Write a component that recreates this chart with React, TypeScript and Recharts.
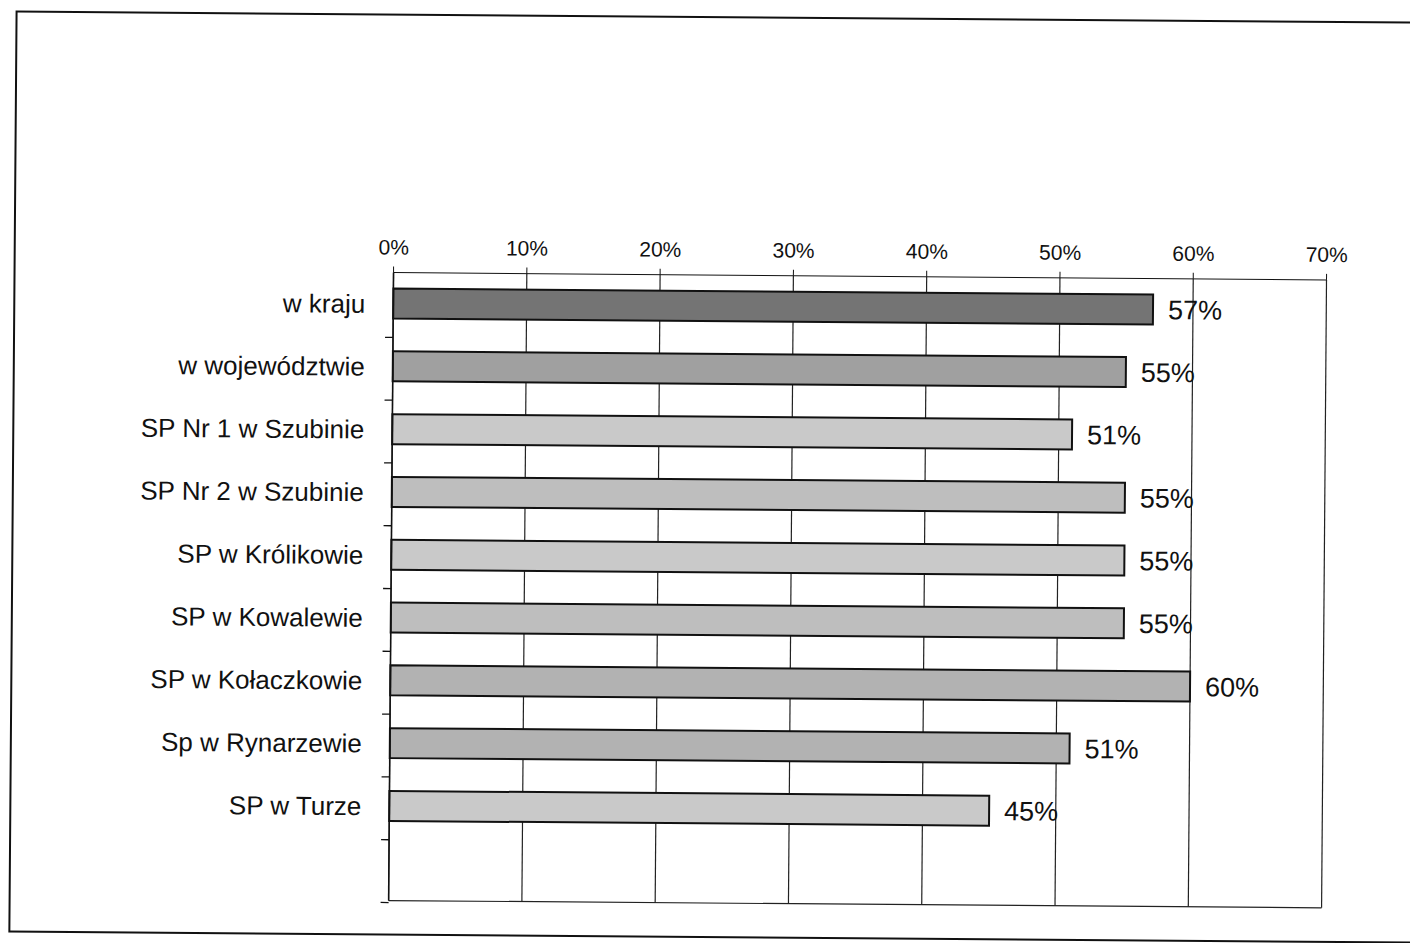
import { BarChart, Bar, XAxis, YAxis, CartesianGrid, Cell, LabelList } from "recharts";

// categories (last slot is left empty, like the original)
const schools = [
  "w kraju",
  "w województwie",
  "SP Nr 1 w Szubinie",
  "SP Nr 2 w Szubinie",
  "SP w Królikowie",
  "SP w Kowalewie",
  "SP w Kołaczkowie",
  "Sp w Rynarzewie",
  "SP w Turze",
  "",
];
const scores = [0.57, 0.55, 0.51, 0.55, 0.55, 0.55, 0.6, 0.51, 0.45, null];
const xTicks = [0, 0.1, 0.2, 0.3, 0.4, 0.5, 0.6, 0.7];

const barFills = ["#747474", "#a0a0a0", "#c9c9c9", "#bebebe", "#c9c9c9", "#bebebe", "#b2b2b2", "#b2b2b2", "#c9c9c9", "#c9c9c9"];

const data = schools.map((name, i) => ({ name, value: scores[i] }));

const FONT = "'Liberation Sans', Arial, sans-serif";
const pct = (v: number) => `${Math.round(v * 100)}%`;

const W = 1410;
const H = 943;
const M = { top: 235, right: 85, bottom: 40, left: 0 };
const BAND = (H - M.top - M.bottom) / schools.length;
const TICK_GAP = 22;

// category label plus a small tick mark on the slot boundary below it
const CategoryTick = (props: any) => {
  const { x, y, payload } = props;
  const axisX = x + TICK_GAP + 6;
  const yb = y + BAND / 2;
  return (
    <g>
      <text x={x} y={y} dy="0.35em" textAnchor="end" fill="#111" fontSize={26} fontFamily={FONT}>
        {payload.value}
      </text>
      <line x1={axisX - 8} x2={axisX} y1={yb} y2={yb} stroke="#111" strokeWidth={1.3} />
    </g>
  );
};

export default function App() {
  return (
    <div style={{ position: "relative", width: W, height: H, overflow: "hidden", background: "#fff" }}>
      <style>{"body{margin:0}"}</style>
      <div style={{ position: "absolute", left: 0, top: 0, width: W, height: H, transform: "rotate(0.45deg)", transformOrigin: "705px 470px" }}>
        <div
          style={{
            position: "absolute",
            left: 12,
            top: 16,
            width: 1440,
            height: 918,
            border: "2px solid #111",
          }}
        />
        <div style={{ position: "absolute", left: 0, top: 0 }}>
          <BarChart
            width={W}
            height={H}
            data={data}
            layout="vertical"
            margin={M}
            style={{ fontFamily: FONT }}
          >
            <CartesianGrid
              stroke="#222"
              strokeWidth={1.2}
              horizontalCoordinatesGenerator={({ offset }: any) => [offset.top + offset.height]}
            />
            <XAxis
              type="number"
              orientation="top"
              domain={[0, 0.7]}
              ticks={xTicks}
              tickFormatter={pct}
              height={40}
              tickSize={6}
              tickMargin={12}
              stroke="#111"
              tick={{ fill: "#111", fontSize: 21, fontFamily: FONT }}
              interval={0}
            />
            <YAxis
              type="category"
              dataKey="name"
              width={392}
              tickLine={false}
              tickMargin={TICK_GAP}
              stroke="#111"
              strokeWidth={1.5}
              tick={<CategoryTick />}
              interval={0}
            />
            <Bar dataKey="value" barSize={30} stroke="#111" strokeWidth={2} isAnimationActive={false}>
              {data.map((_, i) => (
                <Cell key={`c-${i}`} fill={barFills[i]} />
              ))}
              <LabelList
                dataKey="value"
                position="right"
                offset={15}
                formatter={(v: any) => (v == null ? "" : pct(v))}
                style={{ fill: "#111", fontSize: 27, fontFamily: FONT }}
              />
            </Bar>
          </BarChart>
        </div>
      </div>
    </div>
  );
}
